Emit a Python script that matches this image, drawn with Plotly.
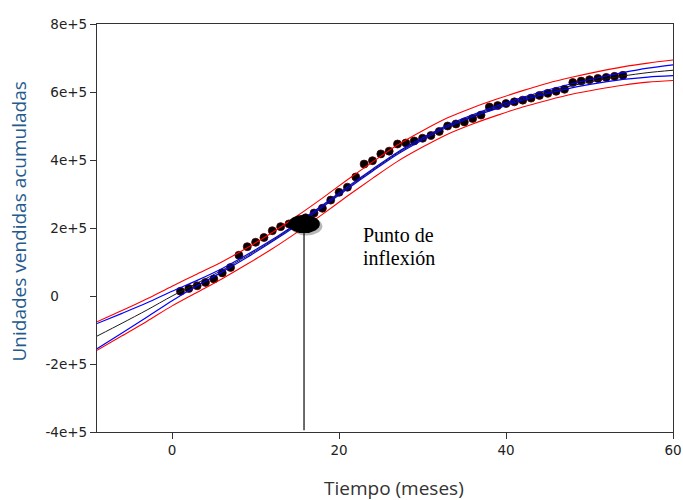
import plotly.graph_objects as go

# ---------------- data ----------------
months = list(range(1, 55))
sales_e5 = [0.14, 0.22, 0.30, 0.40, 0.50, 0.68, 0.84, 1.20, 1.45, 1.58,
            1.72, 1.92, 2.04, 2.12, 2.20, 2.30, 2.44, 2.58, 2.82, 3.05,
            3.20, 3.50, 3.88, 3.98, 4.18, 4.26, 4.47, 4.50, 4.56, 4.64,
            4.72, 4.84, 5.00, 5.06, 5.12, 5.22, 5.32, 5.56, 5.60, 5.66,
            5.71, 5.76, 5.82, 5.90, 5.96, 6.02, 6.08, 6.28, 6.32, 6.36,
            6.40, 6.43, 6.46, 6.49]

curve_x = [-9, -6, -3, 0, 3, 6, 9, 12, 15, 18, 21, 24, 27, 30, 33, 36,
           39, 42, 45, 48, 51, 54, 57, 60]
fit_e5 = [-1.18, -0.80, -0.41, 0.00, 0.38, 0.76, 1.18, 1.63, 2.12, 2.64,
          3.18, 3.70, 4.20, 4.62, 5.00, 5.30, 5.56, 5.80, 6.01, 6.19,
          6.34, 6.47, 6.57, 6.64]
conf_upper_e5 = [-0.81, -0.51, -0.20, 0.14, 0.46, 0.81, 1.22, 1.66, 2.15,
                 2.67, 3.21, 3.73, 4.23, 4.65, 5.03, 5.33, 5.60, 5.84, 6.06,
                 6.25, 6.42, 6.57, 6.70, 6.80]
conf_lower_e5 = [-1.55, -1.09, -0.62, -0.14, 0.30, 0.71, 1.14, 1.60, 2.09,
                 2.61, 3.15, 3.67, 4.17, 4.59, 4.97, 5.27, 5.52, 5.76, 5.96,
                 6.13, 6.26, 6.37, 6.44, 6.48]
pred_upper_e5 = [-0.76, -0.43, -0.08, 0.29, 0.65, 1.01, 1.42, 1.87, 2.36,
                 2.88, 3.42, 3.94, 4.44, 4.86, 5.24, 5.54, 5.80, 6.04, 6.26,
                 6.44, 6.60, 6.74, 6.85, 6.94]
pred_lower_e5 = [-1.60, -1.17, -0.74, -0.29, 0.11, 0.51, 0.94, 1.39, 1.88,
                 2.40, 2.94, 3.46, 3.96, 4.38, 4.76, 5.06, 5.32, 5.56, 5.76,
                 5.94, 6.08, 6.20, 6.29, 6.34]

inflection_x = 15.8
inflection_y = 2.12e5

y_tick_vals = [-4e5, -2e5, 0, 2e5, 4e5, 6e5, 8e5]
# the "0" label in the reference is aligned as if it were "0e+5"
y_tick_text = ["-4e+5", "-2e+5", "0<span style='color:white'>e+5</span>",
               "2e+5", "4e+5", "6e+5", "8e+5"]
x_tick_vals = [0, 20, 40, 60]
x_tick_text = ["0", "20", "40", "60"]

x_title = "Tiempo (meses)"
y_title = "Unidades vendidas acumuladas"

E5 = 1e5
sales = [v * E5 for v in sales_e5]
fit = [v * E5 for v in fit_e5]
conf_upper = [v * E5 for v in conf_upper_e5]
conf_lower = [v * E5 for v in conf_lower_e5]
pred_upper = [v * E5 for v in pred_upper_e5]
pred_lower = [v * E5 for v in pred_lower_e5]

X_RANGE = [-9, 60]
Y_RANGE = [-4e5, 8e5]

fig = go.Figure()

fig.add_trace(go.Scatter(
    x=months, y=sales, mode="markers",
    marker=dict(size=8, color="#050000", line=dict(width=0.8, color="#4a0000")),
    showlegend=False, hoverinfo="skip"))

for ys, col, w in [(pred_upper, "#ff0000", 1.1), (pred_lower, "#ff0000", 1.1),
                   (conf_upper, "#0000ff", 1.2), (conf_lower, "#0000ff", 1.2),
                   (fit, "#1a1a1a", 1.0)]:
    fig.add_trace(go.Scatter(
        x=curve_x, y=ys, mode="lines",
        line=dict(color=col, width=w, shape="spline", smoothing=0.8),
        showlegend=False, hoverinfo="skip"))

# inflection point marker (ellipse with soft shadow) and drop line
half_w = 1.9      # months
half_h = 0.27e5   # units
fig.add_shape(type="line", xref="x", yref="y",
              x0=inflection_x, x1=inflection_x, y0=inflection_y, y1=Y_RANGE[0] + 0.05e5,
              line=dict(color="#3a3a3a", width=1.5), layer="above")
fig.add_shape(type="circle", xref="x", yref="y",
              x0=inflection_x - half_w + 0.3, x1=inflection_x + half_w + 0.3,
              y0=inflection_y - half_h - 0.07e5, y1=inflection_y + half_h - 0.07e5,
              fillcolor="rgba(0,0,0,0.28)", line=dict(width=0), layer="above")
fig.add_shape(type="circle", xref="x", yref="y",
              x0=inflection_x - half_w, x1=inflection_x + half_w,
              y0=inflection_y - half_h, y1=inflection_y + half_h,
              fillcolor="#000000", line=dict(width=0), layer="above")

serif = dict(family="Liberation Serif, Times New Roman, serif", size=20, color="#000000")
fig.add_annotation(x=22.6, y=1.78e5, xref="x", yref="y", text="Punto de",
                   showarrow=False, xanchor="left", yanchor="middle", font=serif)
fig.add_annotation(x=22.6, y=1.13e5, xref="x", yref="y", text="inflexión",
                   showarrow=False, xanchor="left", yanchor="middle", font=serif)

# axis titles placed in the margins
fig.add_annotation(x=0.516, y=-0.137, xref="paper", yref="paper", text=x_title,
                   showarrow=False, xanchor="center", yanchor="middle",
                   font=dict(family="Open Sans, sans-serif", size=19, color="#333333"))
fig.add_annotation(x=-0.136, y=0.515, xref="paper", yref="paper", text=y_title,
                   showarrow=False, xanchor="center", yanchor="middle", textangle=-90,
                   font=dict(family="Open Sans, sans-serif", size=19, color="#245a8c"))

tick_font = dict(family="DejaVu Sans, Verdana, sans-serif", size=13.5, color="#222222")
axis_common = dict(showgrid=False, zeroline=False, showline=True, linecolor="#333333",
                   linewidth=1.3, mirror=True, ticks="outside", ticklen=6,
                   tickcolor="#333333", tickwidth=1.3, tickfont=tick_font,
                   automargin=False)

fig.update_xaxes(range=X_RANGE, tickvals=x_tick_vals, ticktext=x_tick_text, **axis_common)
fig.update_yaxes(range=Y_RANGE, tickvals=y_tick_vals, ticktext=y_tick_text, **axis_common)

fig.update_layout(width=683, height=500, autosize=False,
                  margin=dict(l=97, r=10, t=24, b=68),
                  paper_bgcolor="white", plot_bgcolor="white")

# remove the default page margin so the figure fills the window exactly
fig.write_html("out.html",
               config={"displayModeBar": False},
               post_script="document.body.style.margin='0';document.body.style.overflow='hidden';")
